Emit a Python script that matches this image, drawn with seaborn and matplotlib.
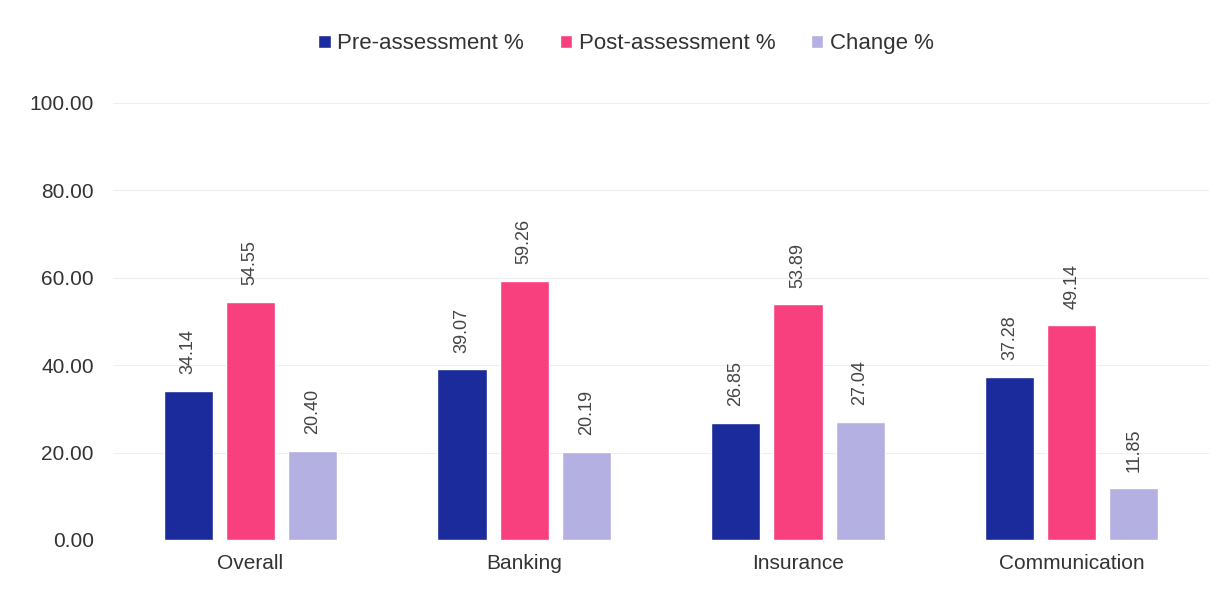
import pandas as pd
import matplotlib
matplotlib.use("Agg")
import matplotlib.pyplot as plt
import seaborn as sns

categories = ["Overall", "Banking", "Insurance", "Communication"]
pre_assessment = [34.14, 39.07, 26.85, 37.28]
post_assessment = [54.55, 59.26, 53.89, 49.14]
change = [20.40, 20.19, 27.04, 11.85]
series_names = ["Pre-assessment %", "Post-assessment %", "Change %"]
colors = ["#1b2b9b", "#f8407f", "#b4b0e2"]

df = pd.DataFrame({
    "Category": categories * 3,
    "Series": [series_names[0]] * 4 + [series_names[1]] * 4 + [series_names[2]] * 4,
    "Value": pre_assessment + post_assessment + change,
})

sns.set_theme(style="white")
plt.rcParams["font.family"] = ["Liberation Sans", "DejaVu Sans"]

fig = plt.figure(figsize=(12.31, 5.98), dpi=100)
ax = fig.add_axes([0.092, 0.097, 0.890, 0.731])

sns.barplot(data=df, x="Category", y="Value", hue="Series", order=categories,
            hue_order=series_names, palette=colors, width=0.68, gap=0.21,
            saturation=1, ax=ax)

for container in ax.containers:
    ax.bar_label(container, fmt="%.2f", rotation=90, padding=12,
                 fontsize=13, color="#444444")

ax.set_ylim(0, 100)
ax.set_xlim(-0.5, 3.5)
ax.set_yticks([0, 20, 40, 60, 80, 100])
ax.set_yticklabels([f"{v:.2f}" for v in [0, 20, 40, 60, 80, 100]], fontsize=15, color="#333333")
ax.tick_params(axis="x", labelsize=15, colors="#333333", length=0, pad=10)
ax.tick_params(axis="y", length=0, pad=14)
ax.set_xlabel("")
ax.set_ylabel("")
ax.yaxis.grid(True, color="#eeeeee", linewidth=0.8)
ax.set_axisbelow(True)
sns.despine(ax=ax, left=True, bottom=True)

ax.legend(loc="upper center", bbox_to_anchor=(0.468, 1.205), ncol=3, frameon=False,
          fontsize=16, handlelength=0.55, handleheight=0.55, handletextpad=0.3,
          columnspacing=1.6, labelcolor="#333333")

fig.savefig("out.png", dpi=100)
